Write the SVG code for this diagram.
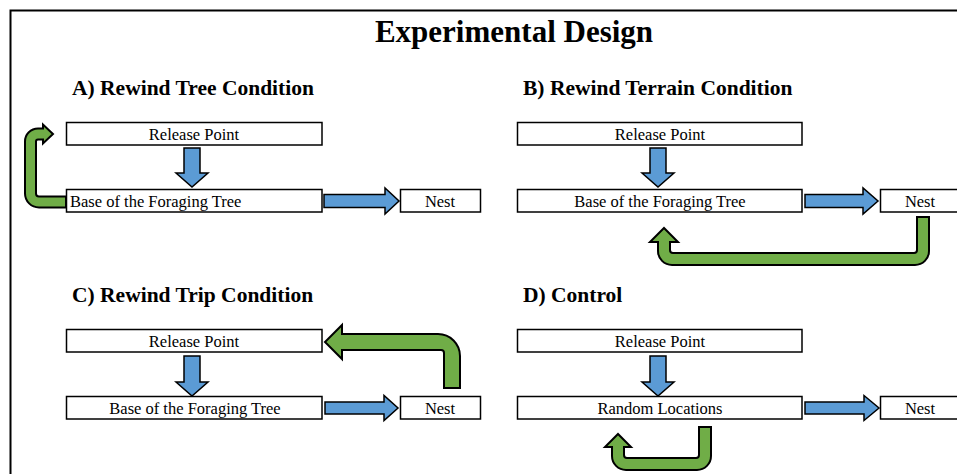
<svg xmlns="http://www.w3.org/2000/svg" width="957" height="474" viewBox="0 0 957 474">
<style>
.t{font-family:"Liberation Serif","Times New Roman",serif;fill:#000}
.title{font-size:31px;font-weight:bold;text-anchor:middle}
.h{font-size:21.5px;font-weight:bold}
.lbl{font-size:16.5px;text-anchor:middle}
.box{fill:#fff;stroke:#000;stroke-width:1.5}
.blue{fill:#5B9BD5;stroke:#000;stroke-width:1.5;stroke-linejoin:miter}
.green{fill:#70AD47;stroke:#000;stroke-width:2;stroke-linejoin:miter}
</style>
<rect x="0" y="0" width="957" height="474" fill="#fff"/>
<rect x="10.5" y="10.5" width="1000" height="600" fill="none" stroke="#000" stroke-width="2"/>
<text class="t title" x="514" y="42">Experimental Design</text>
<text class="t h" x="72" y="95">A) Rewind Tree Condition</text>
<text class="t h" x="523" y="95">B) Rewind Terrain Condition</text>
<text class="t h" x="72" y="302">C) Rewind Trip Condition</text>
<text class="t h" x="523" y="302">D) Control</text>

<g id="connectors">
<!-- A -->
<path class="blue" d="M184,148 H200 V173 H208 L192,187 L176,173 H184 Z"/>
<path class="blue" d="M324,194.5 H385 V188 L399,201 L385,214 V207.5 H324 Z"/>
<path class="green" d="M66,196.5 H39 A3,3 0 0 1 36,193.5 V141.5 A2,2 0 0 1 38,139.5 H43 V143.5 L53,134 L43,124.5 V128.5 H38 A13,13 0 0 0 25,141.5 V193.5 A14,14 0 0 0 39,207.5 H66 Z"/>
<!-- B -->
<path class="blue" d="M650,148 H666 V173 H674 L658,187 L642,173 H650 Z"/>
<path class="blue" d="M805,194.5 H863 V188 L878,201 L863,214 V207.5 H805 Z"/>
<path class="green" d="M917,217 H929 V251 A14,14 0 0 1 915,265 H672 A14,14 0 0 1 658,251 V242 H650 L664,228 L678,242 H670 V250 A3,3 0 0 0 673,253 H914 A3,3 0 0 0 917,250 Z"/>
<!-- C -->
<path class="blue" d="M184,356 H200 V382 H208 L192,396 L176,382 H184 Z"/>
<path class="blue" d="M325,402 H384 V395.5 L398,408 L384,420.5 V414 H325 Z"/>
<path class="green" d="M444,388 H460 V356 A22,22 0 0 0 438,334 H342 V325 L325,342 L342,359 V350 H441 A3,3 0 0 1 444,353 Z"/>
<!-- D -->
<path class="blue" d="M650,356 H666 V382 H674 L658,396 L642,382 H650 Z"/>
<path class="blue" d="M805,402 H864 V395.5 L879,408 L864,420.5 V414 H805 Z"/>
<path class="green" d="M699,427 H711 V456 A14,14 0 0 1 697,470 H626 A14,14 0 0 1 612,456 V447 H605 L618,434 L631,447 H624 V455 A3,3 0 0 0 627,458 H696 A3,3 0 0 0 699,455 Z"/>
</g>

<g id="a-release"><rect class="box" x="66.5" y="122.5" width="255.5" height="22.5"/><text class="t lbl" x="194" y="140">Release Point</text></g>
<g id="a-base"><rect class="box" x="66.5" y="189.5" width="255.5" height="22.5"/><text class="t lbl" x="70" y="207" style="text-anchor:start">Base of the Foraging Tree</text></g>
<g id="a-nest"><rect class="box" x="400.5" y="189.5" width="80" height="22.5"/><text class="t lbl" x="440" y="207">Nest</text></g>

<g id="b-release"><rect class="box" x="517.5" y="122.5" width="284.5" height="22.5"/><text class="t lbl" x="660" y="140">Release Point</text></g>
<g id="b-base"><rect class="box" x="517.5" y="189.5" width="284.5" height="22.5"/><text class="t lbl" x="660" y="207">Base of the Foraging Tree</text></g>
<g id="b-nest"><rect class="box" x="880.5" y="189.5" width="81" height="22.5"/><text class="t lbl" x="920" y="207">Nest</text></g>

<g id="c-release"><rect class="box" x="66.5" y="329.5" width="255.5" height="22.5"/><text class="t lbl" x="194" y="347">Release Point</text></g>
<g id="c-base"><rect class="box" x="66.5" y="396.5" width="255.5" height="22.5"/><text class="t lbl" x="195" y="414">Base of the Foraging Tree</text></g>
<g id="c-nest"><rect class="box" x="400.5" y="396.5" width="80" height="22.5"/><text class="t lbl" x="440" y="414">Nest</text></g>

<g id="d-release"><rect class="box" x="517.5" y="329.5" width="284.5" height="22.5"/><text class="t lbl" x="660" y="347">Release Point</text></g>
<g id="d-random"><rect class="box" x="517.5" y="396.5" width="284.5" height="22.5"/><text class="t lbl" x="660" y="414">Random Locations</text></g>
<g id="d-nest"><rect class="box" x="880.5" y="396.5" width="81" height="22.5"/><text class="t lbl" x="920" y="414">Nest</text></g>
</svg>
